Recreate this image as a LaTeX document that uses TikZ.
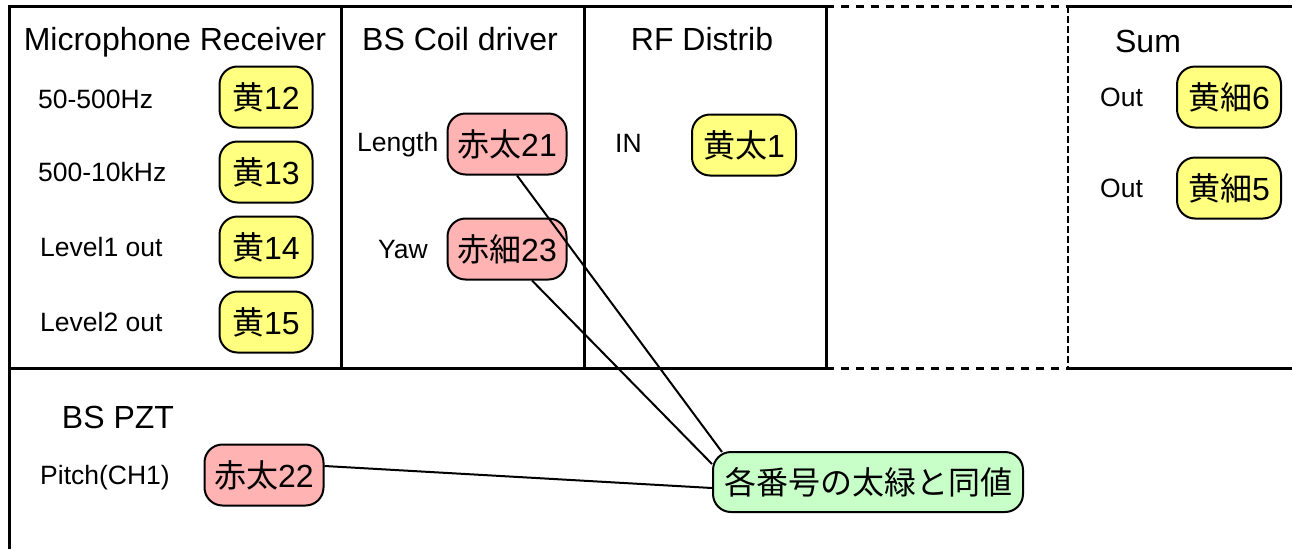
\documentclass[tikz,border=0pt]{standalone}
\usepackage{fontspec}
\setmainfont{Liberation Sans}
\newfontfamily\cjk{Noto Sans CJK JP}
\definecolor{ybg}{HTML}{FFFF80}
\definecolor{rbg}{HTML}{FFB3B3}
\definecolor{gbg}{HTML}{C8FFC8}
\begin{document}
\begin{tikzpicture}[x=1pt,y=-1pt,
  border/.style={line width=3pt},
  dashborder/.style={line width=3pt, dash pattern=on 8pt off 7pt},
  dashside/.style={line width=2.5pt, dash pattern=on 7pt off 3pt},
  badge/.style={draw, line width=2pt, rounded corners=18pt, minimum height=61pt, inner sep=0pt, font=\fontsize{32}{32}\selectfont},
  ybadge/.style={badge, fill=ybg},
  rbadge/.style={badge, fill=rbg},
  gbadge/.style={badge, fill=gbg, minimum height=60pt},
  lbl/.style={font=\fontsize{26.5}{26.5}\selectfont, inner sep=0pt, anchor=base west},
  ttl/.style={font=\fontsize{32}{32}\selectfont, inner sep=0pt, anchor=base},
  conn/.style={line width=2pt}]
\useasboundingbox (0,0) rectangle (1292,549);
\fill[white] (0,0) rectangle (1292,549);
% frame
\draw[border] (9,549) -- (9,6) -- (826,6);
\draw[dashborder] (826,6) -- (1068,6);
\draw[border] (1068,6) -- (1292,6);
\draw[border] (9,368) -- (826,368);
\draw[dashborder] (826,368) -- (1068,368);
\draw[border] (1068,368) -- (1292,368);
\draw[border] (341,6) -- (341,368);
\draw[border] (584,6) -- (584,368);
\draw[border] (826,6) -- (826,368);
\draw[dashside] (1068,6) -- (1068,368);
% titles
\node[ttl] (tmic) at (175,50) {Microphone Receiver};
\node[ttl] (tbs) at (460,50) {BS Coil driver};
\node[ttl] (trf) at (702,50) {RF Distrib};
\node[ttl] (tsum) at (1148,52) {Sum};
\node[ttl] (tpzt) at (118,428) {BS PZT};
% labels
\node[lbl] (l1) at (38,108.5) {50-500Hz};
\node[lbl] (l2) at (38,181.5) {500-10kHz};
\node[lbl] (l3) at (40,256.5) {Level1 out};
\node[lbl] (l4) at (40,331.5) {Level2 out};
\node[lbl] (llen) at (357,151.5) {Length};
\node[lbl] (lyaw) at (378,258.5) {Yaw};
\node[lbl] (lin) at (615,152.5) {IN};
\node[lbl] (lout1) at (1100,106.5) {Out};
\node[lbl] (lout2) at (1100,197.5) {Out};
\node[lbl] (lpitch) at (40,484.5) {Pitch(CH1)};
% badges
\node[ybadge, minimum width=93pt] (y12) at (266,97) {{\cjk 黄}12};
\node[ybadge, minimum width=93pt] (y13) at (266,172) {{\cjk 黄}13};
\node[ybadge, minimum width=93pt] (y14) at (266,247) {{\cjk 黄}14};
\node[ybadge, minimum width=93pt] (y15) at (266,322) {{\cjk 黄}15};
\node[rbadge, minimum width=119pt] (r21) at (507,144) {{\cjk 赤太}21};
\node[rbadge, minimum width=119pt] (r23) at (507,249) {{\cjk 赤細}23};
\node[ybadge, minimum width=104pt] (y1) at (744,145) {{\cjk 黄太}1};
\node[ybadge, minimum width=104pt] (y6) at (1229,97) {{\cjk 黄細}6};
\node[ybadge, minimum width=104pt] (y5) at (1229,188) {{\cjk 黄細}5};
\node[rbadge, minimum width=119pt] (r22) at (264,475) {{\cjk 赤太}22};
\node[gbadge, minimum width=310pt] (g) at (868,482) {\cjk 各番号の太緑と同値};
% connectors
\draw[conn] ([xshift=10pt]r21.south) -- ([xshift=10pt,yshift=-1pt]g.north west);
\draw[conn] ([xshift=25pt]r23.south) -- ([yshift=-13pt]g.north west);
\draw[conn] ([yshift=9pt]r22.east) -- ([yshift=-6pt]g.west);
\end{tikzpicture}
\end{document}
